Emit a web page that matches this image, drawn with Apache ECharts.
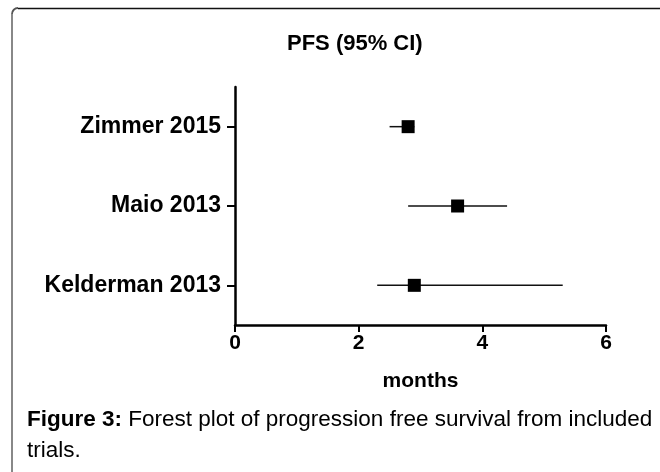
<!DOCTYPE html>
<html>
<head>
<meta charset="utf-8">
<script src="https://cdn.jsdelivr.net/npm/echarts@6/dist/echarts.min.js"></script>
<style>
  html, body { margin: 0; padding: 0; background: #fff; }
  #chart { width: 660px; height: 472px; }
</style>
</head>
<body>
<div id="chart"></div>
<script>
// forest plot data (bottom to top)
var studies = ['Kelderman 2013', 'Maio 2013', 'Zimmer 2015']
var pfs = [2.9, 3.6, 2.8]
var ciLow = [2.3, 2.8, 2.5]
var ciHigh = [5.3, 4.4, 2.9]
var xTicks = [0, 2, 4, 6]

var font = "'Liberation Sans', Arial, sans-serif"

var chart = echarts.init(document.getElementById('chart'))

var ciData = studies.map(function (s, i) {
  return [ciLow[i], ciHigh[i], i]
})
var pointData = studies.map(function (s, i) {
  return [pfs[i], s]
})

chart.setOption({
  animation: false,
  title: {
    text: 'PFS (95% CI)',
    left: 287,
    top: 33,
    padding: 0,
    textStyle: { fontFamily: font, fontSize: 22, fontWeight: 'bold', color: '#000' }
  },
  grid: { left: 235, right: 54, top: 87, bottom: 147 },
  xAxis: {
    type: 'value',
    min: xTicks[0],
    max: xTicks[xTicks.length - 1],
    interval: 2,
    name: 'months',
    nameLocation: 'middle',
    nameGap: 46,
    nameTextStyle: { fontFamily: font, fontSize: 21, fontWeight: 'bold', color: '#000' },
    axisLine: { show: true, lineStyle: { color: '#000', width: 2.5 } },
    axisTick: { show: true, length: 7, lineStyle: { color: '#000', width: 2 } },
    axisLabel: { margin: 8, fontFamily: font, fontSize: 21, fontWeight: 'bold', color: '#000' },
    splitLine: { show: false }
  },
  yAxis: {
    type: 'category',
    data: studies,
    axisLine: { show: true, lineStyle: { color: '#000', width: 2.5 } },
    axisTick: { show: true, alignWithLabel: true, length: 8, lineStyle: { color: '#000', width: 2 } },
    axisLabel: { margin: 14, fontFamily: font, fontSize: 23, fontWeight: 'bold', color: '#000' },
    splitLine: { show: false }
  },
  series: [
    {
      type: 'custom',
      data: ciData,
      encode: { x: [0, 1], y: 2 },
      renderItem: function (params, api) {
        var a = api.coord([api.value(0), api.value(2)])
        var b = api.coord([api.value(1), api.value(2)])
        return {
          type: 'line',
          shape: { x1: a[0], y1: a[1], x2: b[0], y2: b[1] },
          style: { stroke: '#111', lineWidth: 1.5 }
        }
      }
    },
    {
      type: 'scatter',
      data: pointData,
      symbol: 'rect',
      symbolSize: 13,
      itemStyle: { color: '#000', opacity: 1 },
      z: 5
    }
  ],
  graphic: [
    { type: 'line', shape: { x1: 12, y1: 14, x2: 12, y2: 472 }, style: { stroke: '#888', lineWidth: 2 } },
    { type: 'arc', shape: { cx: 18, cy: 14, r: 6, startAngle: Math.PI, endAngle: Math.PI * 1.5 }, style: { stroke: '#555', lineWidth: 1.8, fill: null } },
    { type: 'line', shape: { x1: 18, y1: 8.5, x2: 660, y2: 8.5 }, style: { stroke: '#111', lineWidth: 1.5 } },
    {
      type: 'text',
      left: 27,
      top: 404,
      style: {
        text: '{b|Figure 3:} Forest plot of progression free survival from included\ntrials.',
        fontFamily: font,
        fontSize: 22.5,
        lineHeight: 31,
        fill: '#000',
        rich: {
          b: { fontFamily: font, fontSize: 22.5, fontWeight: 'bold', lineHeight: 31 }
        }
      }
    }
  ]
})
</script>
</body>
</html>
